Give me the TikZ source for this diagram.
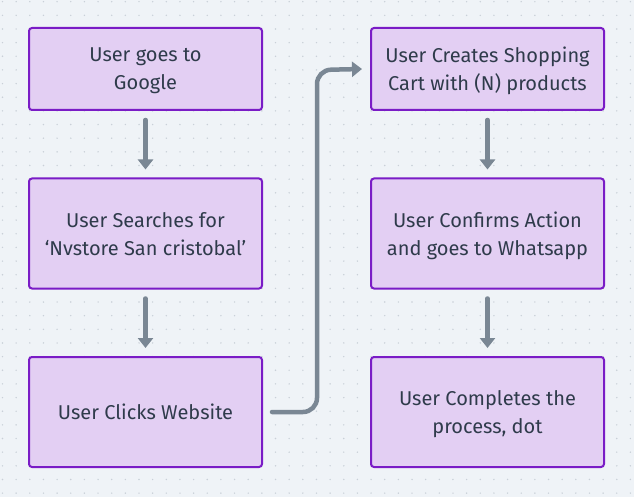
\documentclass[tikz,border=0pt]{standalone}
\usepackage{fontspec}
\setmainfont{Fira Sans}
\usepackage{tikz}
\usetikzlibrary{arrows.meta,positioning}

\definecolor{paper}{HTML}{EFF3F7}
\definecolor{griddot}{HTML}{C9D0D8}
\definecolor{boxfill}{HTML}{E3CFF3}
\definecolor{boxline}{HTML}{7A1CC6}
\definecolor{inkgray}{HTML}{2F3B4B}
\definecolor{flowgray}{HTML}{7A8794}

\tikzset{
	stepbox/.style={draw=boxline,fill=boxfill,line width=2pt,rounded corners=3pt,
		minimum width=233pt,minimum height=110pt,align=center,text=inkgray,
		font=\fontsize{20}{28}\selectfont,inner sep=0pt,text depth=0pt},
	flow/.style={draw=flowgray,line width=4.5pt,line cap=round,
		-{Triangle[length=10pt,width=15pt]}}
}

\begin{document}
\begin{tikzpicture}[x=1pt,y=-1pt]
	% the paper and its dots
	\fill[paper] (0,0) rectangle (634,497);
	\useasboundingbox (0,0) rectangle (634,497);
	\foreach \i in {0,...,46}{
		\foreach \j in {0,...,36}{
			\fill[griddot] (2.5+13.65*\i,1.7+13.65*\j) circle (0.8pt);
		}
	}
	%% left column
	\node[stepbox,minimum height=82pt] (google) at (145.5,69) {User goes to\\Google};
	\node[stepbox] (search) at (145.5,233.5) {User Searches for\\‘Nvstore San cristobal’};
	\node[stepbox] (website) at (145.5,412) {User Clicks Website};
	%% right column
	\node[stepbox,minimum height=82pt] (cart) at (487.5,69) {User Creates Shopping\\Cart with (N) products};
	\node[stepbox] (confirm) at (487.5,233.5) {User Confirms Action\\and goes to Whatsapp};
	\node[stepbox] (complete) at (487.5,412) {User Completes the\\process, dot};
	% the arrows
	\draw[flow] ([yshift=-9pt]google.south) -- ([yshift=8pt]search.north);
	\draw[flow] ([yshift=-9pt]search.south) -- ([yshift=8pt]website.north);
	\draw[flow] ([yshift=-9pt]cart.south) -- ([yshift=8pt]confirm.north);
	\draw[flow] ([yshift=-9pt]confirm.south) -- ([yshift=8pt]complete.north);
	\draw[flow,rounded corners=14pt] ([xshift=9pt]website.east) -| (317,70) -- ([xshift=-8pt]cart.west);
\end{tikzpicture}
\end{document}
